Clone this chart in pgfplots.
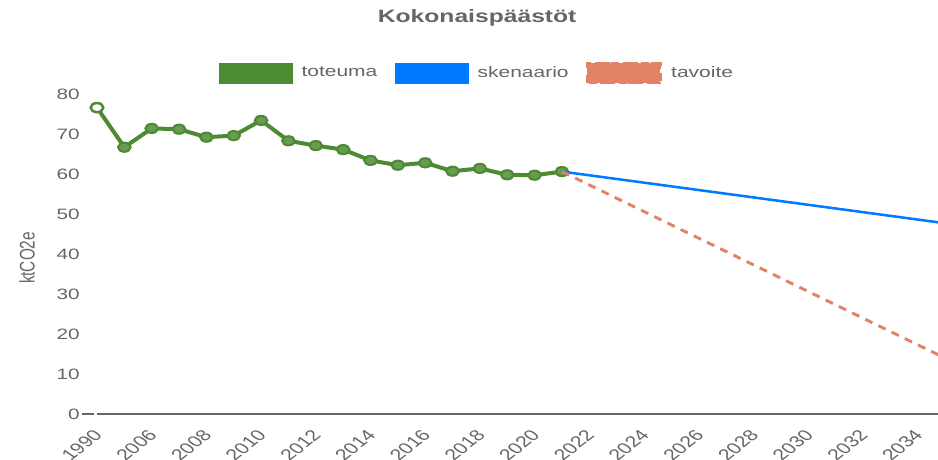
\documentclass[border=0pt]{standalone}
\usepackage{fontspec}
\setmainfont{Liberation Sans}[FakeStretch=1.38]
\newfontfamily\rotfont{Liberation Sans}
\usepackage{pgfplots}
\pgfplotsset{compat=1.18}

\definecolor{tgreen}{RGB}{77,138,52}
\definecolor{tblue}{RGB}{0,123,255}
\definecolor{torange}{RGB}{225,131,100}
\definecolor{txtgray}{RGB}{102,102,102}

\begin{document}
\begin{tikzpicture}
% page = 938 x 460 px, 1px = 0.75pt
\path[use as bounding box] (-72.75pt,-34.5pt) rectangle (630.75pt,310.5pt);
\begin{axis}[
  at={(0pt,0pt)}, anchor=south west,
  scale only axis,
  width=630.75pt, height=240pt,
  xmin=0, xmax=30.75,
  ymin=0, ymax=80,
  axis lines*=left,
  y axis line style={draw=none},
  x axis line style={draw=txtgray, line width=1pt},
  major tick style={draw=none},
  clip mode=individual,
  ytick={0,10,...,80},
  xtick={0,2,...,30},
  xticklabels={1990,2006,2008,2010,2012,2014,2016,2018,2020,2022,2024,2026,2028,2030,2032,2034},
  /pgf/number format/assume math mode=true,
  yticklabel style={font=\fontsize{11.25}{13}\selectfont, text=txtgray,
    anchor=east, inner sep=0pt, xshift=-12.75pt},
  xticklabel style={font=\rotfont\fontsize{11.6}{13}\selectfont, text=txtgray,
    xshift=-3.5pt, yshift=-11pt, xscale=1.38, rotate=47, anchor=north east, inner sep=0pt},
  ylabel={ktCO2e},
  every axis y label/.style={at={(axis description cs:0,0.4875)}, xshift=-52.5pt,
    anchor=center, font=\rotfont\fontsize{11.5}{13}\selectfont, text=txtgray,
    xscale=1.38, rotate=90},
  title={Kokonaispäästöt},
  every axis title/.style={at={(axis description cs:0.452,1.2375)}, anchor=center,
    font=\bfseries\fontsize{13.4}{15}\selectfont, text=txtgray},
  legend columns=3,
  legend style={at={(axis description cs:0.452,1.0656)}, anchor=center,
    draw=none, fill=none, font=\fontsize{11.4}{13}\selectfont, text=txtgray,
    /tikz/every odd column/.append style={column sep=5pt},
    /tikz/every even column/.append style={column sep=11pt}},
]
% toteuma
\addplot[color=tgreen, line width=3pt, mark=*, mark size=3.4pt,
  mark options={solid, line width=1.6pt, draw=tgreen, fill=tgreen!85!white, xscale=1.38},
  legend image code/.code={\draw[draw=tgreen, fill=tgreen, line width=0.5pt, solid]
    (0pt,-7.5pt) rectangle (54.75pt,7.5pt);}]
coordinates {
  (0,76.6) (1,66.7) (2,71.4) (3,71.2) (4,69.2) (5,69.6) (6,73.4) (7,68.3)
  (8,67.1) (9,66.1) (10,63.4) (11,62.2) (12,62.8) (13,60.7) (14,61.4)
  (15,59.8) (16,59.7) (17,60.6)
};
\addlegendentry{toteuma}
% skenaario
\addplot[color=tblue, line width=1.9pt, mark=none,
  legend image code/.code={\draw[draw=tblue, fill=tblue, line width=0.5pt, solid]
    (0pt,-7.5pt) rectangle (54.75pt,7.5pt);}]
coordinates {(17,60.6) (31,47.7)};
\addlegendentry{skenaario}
% tavoite
\addplot[color=torange, line width=2.2pt, mark=none, dash pattern=on 6pt off 5pt,
  legend image code/.code={\fill[torange] (0pt,-7.5pt) rectangle (54.75pt,7.5pt);
    \draw[torange, line width=1pt, dash pattern=on 4pt off 3pt]
    (0pt,-7.5pt) rectangle (54.75pt,7.5pt);}]
coordinates {(17,60.6) (31,14.0)};
\addlegendentry{tavoite}
% short gray mark left of the zero line
\draw[txtgray, line width=1pt] (axis cs:0,0) ++(-11pt,0) -- ++(9pt,0);
% hollow first point
\addplot[forget plot, only marks, mark=*, mark size=3.4pt,
  mark options={solid, line width=1.8pt, draw=tgreen, fill=white, xscale=1.38}]
coordinates {(0,76.6)};
\end{axis}
\end{tikzpicture}
\end{document}
